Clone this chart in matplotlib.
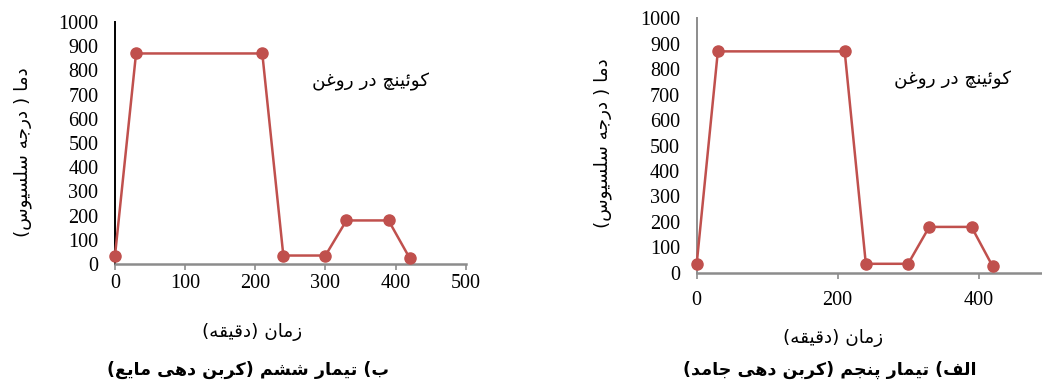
import matplotlib
matplotlib.use("Agg")
import matplotlib.pyplot as plt

# quench cycle: time (min) vs temperature (C)
time_min = [0, 30, 210, 240, 300, 330, 390, 420]
temp_c = [35, 870, 870, 35, 35, 180, 180, 25]
y_ticks = [0, 100, 200, 300, 400, 500, 600, 700, 800, 900, 1000]
x_ticks_left = [0, 100, 200, 300, 400, 500]
x_ticks_right = [0, 200, 400]

note_text = "کوئینچ در روغن"
x_label = "زمان (دقیقه)"
y_label = "دما ( درجه سلسیوس)"
title_left = "ب) تیمار ششم (کربن دهی مایع)"
title_right = "الف) تیمار پنجم (کربن دهی جامد)"

# contextual forms: isolated, final, initial, medial
FORMS = {
    "ا": ("\uFE8D", "\uFE8E"),
    "د": ("\uFEA9", "\uFEAA"),
    "ر": ("\uFEAD", "\uFEAE"),
    "ز": ("\uFEAF", "\uFEB0"),
    "و": ("\uFEED", "\uFEEE"),
    "ب": ("\uFE8F", "\uFE90", "\uFE91", "\uFE92"),
    "پ": ("\uFB56", "\uFB57", "\uFB58", "\uFB59"),
    "ت": ("\uFE95", "\uFE96", "\uFE97", "\uFE98"),
    "ج": ("\uFE9D", "\uFE9E", "\uFE9F", "\uFEA0"),
    "چ": ("\uFB7A", "\uFB7B", "\uFB7C", "\uFB7D"),
    "س": ("\uFEB1", "\uFEB2", "\uFEB3", "\uFEB4"),
    "ش": ("\uFEB5", "\uFEB6", "\uFEB7", "\uFEB8"),
    "ع": ("\uFEC9", "\uFECA", "\uFECB", "\uFECC"),
    "غ": ("\uFECD", "\uFECE", "\uFECF", "\uFED0"),
    "ف": ("\uFED1", "\uFED2", "\uFED3", "\uFED4"),
    "ق": ("\uFED5", "\uFED6", "\uFED7", "\uFED8"),
    "ک": ("\uFB8E", "\uFB8F", "\uFB90", "\uFB91"),
    "ل": ("\uFEDD", "\uFEDE", "\uFEDF", "\uFEE0"),
    "م": ("\uFEE1", "\uFEE2", "\uFEE3", "\uFEE4"),
    "ن": ("\uFEE5", "\uFEE6", "\uFEE7", "\uFEE8"),
    "ه": ("\uFEE9", "\uFEEA", "\uFEEB", "\uFEEC"),
    "ی": ("\uFBFC", "\uFBFD", "\uFBFE", "\uFBFF"),
    "ئ": ("\uFE89", "\uFE8A", "\uFE8B", "\uFE8C"),
}


def fa(text):
    out = []
    for i, ch in enumerate(text):
        f = FORMS.get(ch)
        if f is None:
            out.append(ch)
            continue
        prev = FORMS.get(text[i - 1]) if i > 0 else None
        nxt = FORMS.get(text[i + 1]) if i + 1 < len(text) else None
        join_prev = prev is not None and len(prev) == 4
        join_next = len(f) == 4 and nxt is not None
        if join_prev and join_next:
            out.append(f[3])
        elif join_prev:
            out.append(f[1])
        elif join_next:
            out.append(f[2])
        else:
            out.append(f[0])
    return "".join(out)[::-1].translate(str.maketrans("()", ")("))


RED = "#C0504D"
GRAY = "#8c8c8c"
FA_FONT = "DejaVu Sans"
NUM_FONT = "Liberation Serif"
FA_SIZE = 13.2
TITLE_SIZE = 12.6

fig = plt.figure(figsize=(10.42, 3.88), dpi=100)


def draw_panel(ax, xlim, xticks, left_spine_color, tick_pad_x):
    ax.plot(time_min, temp_c, color=RED, lw=1.8, marker="o", ms=8,
            clip_on=False, zorder=5)
    ax.set_xlim(*xlim)
    ax.set_ylim(0, 1000)
    ax.set_xticks(xticks)
    ax.set_yticks(y_ticks)
    for s in ("top", "right"):
        ax.spines[s].set_visible(False)
    ax.spines["left"].set_color(left_spine_color)
    ax.spines["left"].set_linewidth(1.4)
    ax.spines["bottom"].set_color(GRAY)
    ax.spines["bottom"].set_linewidth(1.8)
    ax.tick_params(axis="y", length=0, pad=12, labelsize=14.5)
    ax.tick_params(axis="x", length=4, width=1.2, color=GRAY, direction="out",
                   pad=tick_pad_x, labelsize=14.5)
    for lab in ax.get_xticklabels() + ax.get_yticklabels():
        lab.set_fontfamily(NUM_FONT)


# left panel (liquid carburizing)
ax1 = fig.add_axes([115 / 1042, 124 / 388, 350.7 / 1042, 242 / 388])
draw_panel(ax1, (0, 500), x_ticks_left, "black", 3)
fig.text(371 / 1042, 306 / 388, fa(note_text), ha="center", va="center",
         fontsize=FA_SIZE, family=FA_FONT)
fig.text(23 / 1042, 236 / 388, fa(y_label), rotation=90, ha="center",
         va="center", fontsize=FA_SIZE, family=FA_FONT)
fig.text(252 / 1042, 56 / 388, fa(x_label), ha="center", va="center",
         fontsize=FA_SIZE, family=FA_FONT)
fig.text(248 / 1042, 18 / 388, fa(title_left), ha="center", va="center",
         fontsize=TITLE_SIZE, fontweight="bold", family=FA_FONT)

# right panel (pack carburizing)
ax2 = fig.add_axes([696.7 / 1042, 115.3 / 388, 345.3 / 1042, 254.4 / 388])
draw_panel(ax2, (0, 490), x_ticks_right, GRAY, 9)
fig.text(953 / 1042, 308 / 388, fa(note_text), ha="center", va="center",
         fontsize=FA_SIZE, family=FA_FONT)
fig.text(603 / 1042, 245 / 388, fa(y_label), rotation=90, ha="center",
         va="center", fontsize=FA_SIZE, family=FA_FONT)
fig.text(833 / 1042, 50 / 388, fa(x_label), ha="center", va="center",
         fontsize=FA_SIZE, family=FA_FONT)
fig.text(830 / 1042, 18 / 388, fa(title_right), ha="center", va="center",
         fontsize=TITLE_SIZE, fontweight="bold", family=FA_FONT)

fig.savefig("out.png", dpi=100)
